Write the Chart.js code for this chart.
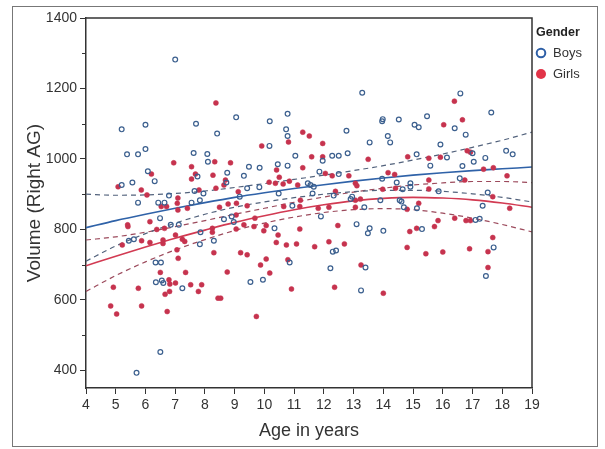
<!DOCTYPE html>
<html><head><meta charset="utf-8">
<script src="https://cdn.jsdelivr.net/npm/chart.js@4.4.1/dist/chart.umd.min.js"></script>
<style>html,body{margin:0;padding:0;background:#fff;}#wrap{position:relative;width:605px;height:449px;}</style>
</head><body><div id="wrap"><canvas id="c" width="605" height="449"></canvas></div>
<script>
const xTitle = 'Age in years';
const yTitle = 'Volume (Right AG)';
const legendTitle = 'Gender';
const seriesNames = ['Boys', 'Girls'];
const xTicks = [4,5,6,7,8,9,10,11,12,13,14,15,16,17,18,19];
const yTicks = [400,600,800,1000,1200,1400];
const yMinorTicks = [500,700,900,1100,1300];

const boysAge = [7.0,5.2,6.0,7.7,5.38,5.75,6.0,7.62,6.08,6.31,7.75,5.56,5.2,6.79,7.65,
 9.05,10.78,10.18,8.41,10.73,10.78,10.17,8.08,8.1,9.48,9.84,10.45,10.78,11.04,8.75,9.31,11.46,9.83,9.42,9.17,10.48,11.62,7.95,
 13.29,13.98,13.96,14.52,15.05,15.19,15.47,12.76,14.15,14.23,13.54,11.96,12.28,12.5,12.8,15.12,15.58,11.85,12.5,13.96,14.45,14.91,14.91,14.65,12.95,12.33,
 16.59,17.63,16.4,16.77,15.92,16.14,17.0,16.66,17.04,17.43,18.13,18.35,16.57,15.86,17.51,
 5.75,6.43,6.64,7.55,6.49,6.85,7.12,6.34,6.52,6.35,6.55,6.6,7.24,6.5,5.7,5.44,5.61,
 8.9,8.97,8.64,7.85,10.34,8.3,10.85,9.53,9.95,10.94,7.83,7.83,8.72,
 11.9,13.36,14.61,14.69,13.1,13.48,13.54,14.0,15.3,12.3,12.41,13.4,12.22,13.25,
 17.34,17.1,17.24,17.71,17.45,12.9,13.9,14.55,11.55,11.66,15.13];
const boysVol = [1282,1084,1097,1100,1013,1013,1028,1017,965,937,950,933,926,896,909,
 1118,1128,1107,1072,1084,1065,1037,1014,992,978,975,985,981,1009,961,952,931,920,917,893,902,902,902,
 1188,1113,1107,1112,1097,1090,1121,1080,1065,1047,1047,995,1009,1009,1016,1013,981,964,957,944,933,931,921,914,893,896,
 1186,1132,1087,1069,1041,1004,1016,980,992,1003,1023,1013,945,908,905,
 876,876,876,876,832,813,813,706,706,650,655,648,633,452,393,768,772,
 837,821,829,792,803,768,706,651,657,867,758,883,933,
 837,863,879,863,815,789,803,796,801,737,740,692,690,627,
 867,827,830,749,668,886,883,883,926,921,860];

const girlsAge = [6.95,6.2,7.55,7.68,7.55,5.08,5.86,6.05,7.09,
 8.37,11.29,11.51,10.81,9.91,8.33,8.86,11.59,11.29,8.27,8.69,10.41,10.5,10.37,10.63,10.84,10.16,11.12,8.64,8.37,9.12,7.8,
 11.96,11.96,13.49,14.82,15.53,12.05,12.28,12.84,13.06,13.11,14.16,14.38,13.98,14.41,15.53,12.39,
 16.39,16.03,16.66,15.92,16.82,16.93,17.37,17.7,16.74,18.16,17.68,15.53,
 7.07,6.53,6.71,7.09,7.41,6.15,5.4,6.38,6.64,5.22,5.87,6.15,6.59,6.59,7.01,7.24,7.32,7.06,7.1,6.5,7.35,6.79,6.82,6.81,6.66,7.01,7.52,7.78,4.92,5.76,4.83,5.03,5.87,6.73,5.41,
 8.49,8.78,9.06,9.42,10.65,11.19,9.68,9.05,8.25,8.25,9.05,9.31,9.65,10.06,9.98,10.46,10.4,10.74,11.08,11.19,11.69,8.3,9.2,9.42,10.06,9.87,10.79,10.18,8.75,10.91,7.89,8.44,8.53,9.73,
 12.17,11.81,13.06,14.8,15.19,12.47,14.89,15.12,12.17,12.69,14.8,15.43,13.25,12.36,14.0,
 18.25,15.84,15.72,16.4,16.78,16.93,17.68,16.0,16.9,17.52,17.52,13.06,11.21,13.23];
const girlsVol = [989,957,978,957,943,921,912,898,889,
 1159,1076,1065,1048,1037,992,989,1006,975,954,940,969,948,931,929,937,934,926,926,917,907,912,
 1044,1006,999,1006,1002,959,952,952,931,924,961,956,914,917,940,908,
 1164,1097,1111,1005,1023,1019,971,975,940,952,893,915,
 874,865,865,855,860,822,813,800,803,756,768,763,770,760,784,772,766,742,718,678,678,657,645,624,616,648,643,624,636,633,583,560,583,567,808,
 863,872,874,867,865,865,832,841,803,792,801,813,808,811,796,784,763,756,759,801,751,734,734,728,716,699,714,676,679,631,643,605,605,553,
 863,860,863,857,874,811,794,803,765,759,749,731,699,636,619,
 860,825,808,832,825,825,777,736,745,737,692,883,883,886];

const fitAge    = [4,5,6,7,8,9,10,11,12,13,14,15,16,17,18,19];
const boysFit   = [805,825,843,860,876,891,904,916,927,937,946,954,961,967,972,977];
const boysUpper = [900,897,898,902,909,919,930,942,954,967,981,997,1014,1033,1053,1076];
const boysLower = [710,753,788,818,843,863,878,890,900,907,911,911,908,901,891,878];
const girlsFit   = [697,724,750,775,798,820,839,856,870,881,888,891,889,884,875,863];
const girlsUpper = [770,779,792,808,825,843,860,877,892,906,917,926,932,936,936,933];
const girlsLower = [624,669,708,742,771,797,818,835,848,856,859,856,846,832,814,793];

const FONT = '"Liberation Sans", Arial, sans-serif';
const boyColor = '#3b5f8e', girlColor = '#c6334e';
const boyLine = '#2f62a8', girlLine = '#d23a52';
const boyDash = '#52627c', girlDash = '#9c4a5c';

const pts = (xs, ys) => xs.map((x, i) => ({x: x, y: ys[i]}));
function lineDs(vals, color, dashed) {
  return {type: 'line', data: pts(fitAge, vals), showLine: true, borderColor: color,
    borderWidth: dashed ? 1.2 : 1.6, borderDash: dashed ? [5, 4] : [], pointRadius: 0,
    pointHoverRadius: 0, fill: false, cubicInterpolationMode: 'monotone', order: 2};
}

const decor = {
  id: 'decor',
  beforeDraw(chart) {
    const c = chart.ctx;
    c.save(); c.fillStyle = '#fff'; c.fillRect(0, 0, chart.width, chart.height);
    c.strokeStyle = '#777'; c.lineWidth = 1; c.strokeRect(12.5, 6.5, 585, 440);
    c.restore();
  },
  afterDraw(chart) {
    const c = chart.ctx, a = chart.chartArea, ys = chart.scales.y;
    c.save();
    c.strokeStyle = '#333'; c.lineWidth = 1.5;
    c.beginPath(); c.moveTo(a.left, a.top); c.lineTo(a.right, a.top); c.lineTo(a.right, a.bottom); c.stroke();
    c.lineWidth = 1;
    yMinorTicks.forEach(v => { const y = Math.round(ys.getPixelForValue(v)) + 0.5;
      c.beginPath(); c.moveTo(a.left - 4, y); c.lineTo(a.left, y); c.stroke(); });
    c.textBaseline = 'middle'; c.textAlign = 'left';
    c.fillStyle = '#222'; c.font = 'bold 12.5px ' + FONT; c.fillText(legendTitle, 536, 33);
    c.font = '13px ' + FONT; c.fillStyle = '#333';
    c.beginPath(); c.arc(541, 53, 4.3, 0, Math.PI * 2); c.strokeStyle = '#2e5fa6'; c.lineWidth = 2; c.stroke();
    c.fillText(seriesNames[0], 553, 53.5);
    c.beginPath(); c.arc(541, 74, 5, 0, Math.PI * 2); c.fillStyle = '#e23448'; c.fill();
    c.fillStyle = '#333'; c.fillText(seriesNames[1], 553, 74.5);
    c.restore();
  }
};

new Chart(document.getElementById('c'), {
  type: 'scatter',
  data: {datasets: [
    {label: seriesNames[0], data: pts(boysAge, boysVol), pointRadius: 2.4, borderWidth: 1.2,
     borderColor: boyColor, backgroundColor: 'rgba(255,255,255,0)', order: 1},
    {label: seriesNames[1], data: pts(girlsAge, girlsVol), pointRadius: 2.5, borderWidth: 0.5,
     borderColor: girlColor, backgroundColor: girlColor, order: 1},
    lineDs(boysFit, boyLine, false), lineDs(boysUpper, boyDash, true), lineDs(boysLower, boyDash, true),
    lineDs(girlsFit, girlLine, false), lineDs(girlsUpper, girlDash, true), lineDs(girlsLower, girlDash, true)
  ]},
  options: {
    responsive: false, animation: false, devicePixelRatio: 1,
    layout: {padding: {left: 12, top: 18, right: 73, bottom: 0}},
    plugins: {legend: {display: false}, tooltip: {enabled: false}},
    scales: {
      x: {type: 'linear', min: 4, max: 19,
        afterBuildTicks: s => { s.ticks = xTicks.map(v => ({value: v})); },
        afterFit: s => { s.height = 61; },
        grid: {drawOnChartArea: false, drawTicks: true, tickLength: 6, tickColor: '#333', tickWidth: 1},
        border: {display: true, color: '#333', width: 1.5},
        ticks: {color: '#333', font: {family: FONT, size: 14}, padding: 3, maxRotation: 0, autoSkip: false,
          callback: v => String(v)},
        title: {display: true, text: xTitle, color: '#333', font: {family: FONT, size: 18}, padding: {top: 0, bottom: 7}}
      },
      y: {type: 'linear', min: 350, max: 1400,
        afterBuildTicks: s => { s.ticks = yTicks.map(v => ({value: v})); },
        afterFit: s => { s.width = 74; },
        grid: {drawOnChartArea: false, drawTicks: true, tickLength: 6, tickColor: '#333', tickWidth: 1},
        border: {display: true, color: '#333', width: 1.5},
        ticks: {color: '#333', font: {family: FONT, size: 14}, padding: 3, callback: v => String(v)},
        title: {display: true, text: yTitle, color: '#333', font: {family: FONT, size: 19}, padding: {top: 11, bottom: 0}}
      }
    }
  },
  plugins: [decor]
});
</script></body></html>
